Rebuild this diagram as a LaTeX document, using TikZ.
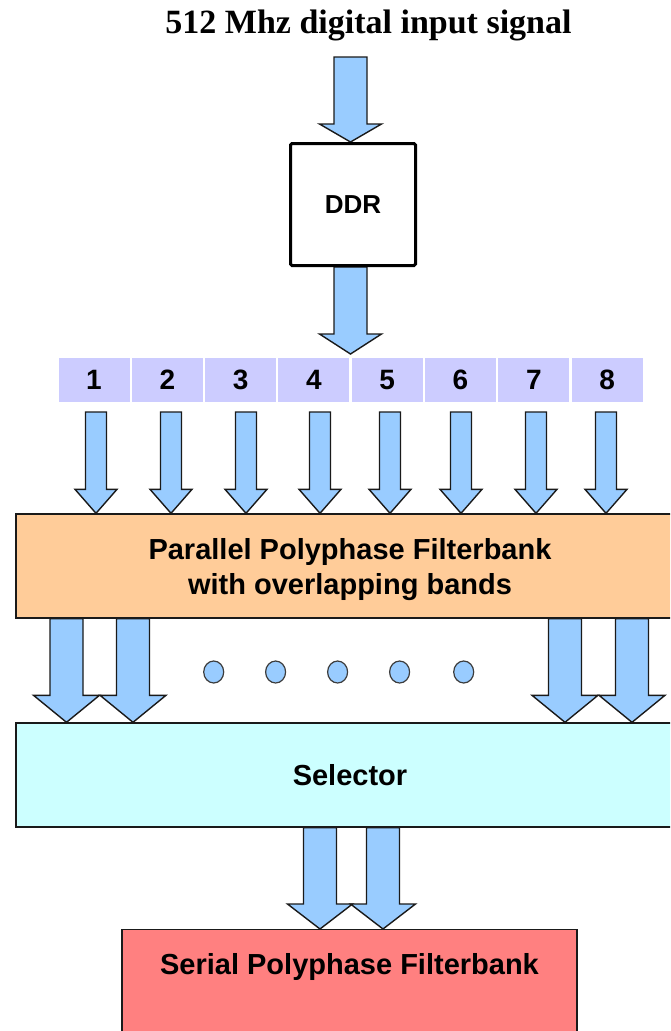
\documentclass[tikz,border=0pt]{standalone}
\usepackage{fontspec}
\setmainfont{Liberation Serif}
\setsansfont{Liberation Sans}
\usetikzlibrary{calc,shapes.geometric,backgrounds}
\definecolor{arrowblue}{HTML}{99CCFF}
\definecolor{lav}{HTML}{CCCCFF}
\definecolor{peach}{HTML}{FFCC99}
\definecolor{pcyan}{HTML}{CCFFFF}
\definecolor{salmon}{HTML}{FF8080}
\definecolor{outl}{HTML}{1A1A1A}
% block arrow: #1 top point, #2 tip point, #3 shaft half width, #4 head half width, #5 head length
\newcommand\blockarrow[5]{%
  \draw[barrow] let \p1=(#1), \p2=(#2) in
  (\x2-#3,\y1) -- (\x2-#3,\y2+#5) -- (\x2-#4,\y2+#5) -- (\x2,\y2)
  -- (\x2+#4,\y2+#5) -- (\x2+#3,\y2+#5) -- (\x2+#3,\y1) -- cycle;}
\begin{document}
\begin{tikzpicture}[x=1pt,y=-1pt,
  barrow/.style={fill=arrowblue,draw=outl,line width=1.4pt,line join=miter},
  numbox/.style={fill=lav,draw=none,minimum width=71pt,minimum height=44pt,inner sep=0pt,
    font={\sffamily\bfseries\fontsize{28}{32}\selectfont}},
  bigbox/.style={draw=outl,line width=1.4pt,inner sep=0pt},
  lbl/.style={font={\sffamily\bfseries\fontsize{29}{35}\selectfont},inner sep=0pt,align=center},
  dot/.style={ellipse,fill=arrowblue,draw=outl!85,line width=1.2pt,minimum width=20pt,minimum height=22pt,inner sep=0pt}]
\useasboundingbox (0,0) rectangle (670,1031);
\clip (0,0) rectangle (670,1031);

% title
\node[font={\rmfamily\bfseries\fontsize{34}{40}\selectfont},anchor=base,inner sep=0pt] (title) at (368.5,33) {512 Mhz digital input signal};
\coordinate (in0) at (350.5,57);

% DDR
\node[draw=black,line width=3pt,fill=white,minimum width=125pt,minimum height=122pt,
  rounded corners=1.5pt,inner sep=0pt,font={\sffamily\bfseries\fontsize{26}{30}\selectfont}] (ddr) at (353,204.5) {DDR};
\coordinate (dout) at (350.5,354);

% numbered boxes
\foreach \i in {1,...,8}
  \node[numbox] (b\i) at ({94+(\i-1)*73.3},380) {\i};

% parallel filterbank
\node[bigbox,fill=peach,minimum width=668pt,minimum height=104pt] (ppf) at (350,566) {};
\node[lbl] (ppflbl) at ($(ppf.center)+(0,4)$) {Parallel Polyphase Filterbank\\with overlapping bands};

% dots
\foreach \i/\dx in {1/213.7,2/275.6,3/337.6,4/399.6,5/463.7}
  \node[dot] (d\i) at (\dx,672) {};

% selector
\node[bigbox,fill=pcyan,minimum width=668pt,minimum height=104pt,lbl] (sel) at (350,775) {Selector};

% serial filterbank
\node[bigbox,fill=salmon,minimum width=455pt,minimum height=150pt,anchor=north] (ser) at (349.5,929) {};
\node[lbl,anchor=base] (serlbl) at ($(ser.north)+(0,45)$) {Serial Polyphase Filterbank};

% arrows (behind boxes)
\begin{scope}[on background layer]
  \blockarrow{in0}{in0 |- ddr.north}{16.5pt}{31pt}{18pt}
  \blockarrow{in0 |- ddr.south}{dout}{16.5pt}{31pt}{20pt}
  \foreach \i/\ax in {1/96,2/171,3/246,4/320,5/390,6/461,7/536,8/606} {
    \coordinate (nt\i) at (\ax,412);
    \blockarrow{nt\i}{nt\i |- ppf.north}{10.5pt}{21pt}{24pt}
  }
  \foreach \i/\ax in {1/66.5,2/133,3/565,4/632} {
    \coordinate (pt\i) at (\ax,0);
    \blockarrow{pt\i |- ppf.south}{pt\i |- sel.north}{16.5pt}{33pt}{27pt}
  }
  \foreach \i/\ax in {1/320,2/383} {
    \coordinate (bt\i) at (\ax,0);
    \blockarrow{bt\i |- sel.south}{bt\i |- ser.north}{16.5pt}{32.5pt}{25pt}
  }
\end{scope}
\end{tikzpicture}
\end{document}
